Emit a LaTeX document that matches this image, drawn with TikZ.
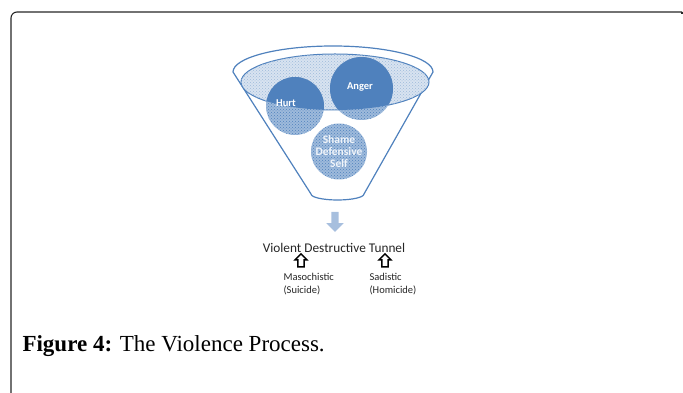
\documentclass[tikz,border=0pt]{standalone}
\usepackage{fontspec}
\setmainfont{Liberation Serif}
\newfontfamily\diagfont{Carlito}
\usetikzlibrary{patterns}
\usetikzlibrary{shapes.arrows}
\usetikzlibrary{positioning}

\definecolor{funnelblue}{RGB}{79,129,189}
\definecolor{arrowblue}{RGB}{167,191,222}

\begin{document}
\begin{tikzpicture}[x=1pt, y=1pt,
  dotlight/.style={fill=funnelblue!22, postaction={pattern=crosshatch dots, pattern color=funnelblue!55}},
  dotmid/.style={fill=funnelblue!55, postaction={pattern=crosshatch dots, pattern color=funnelblue}},
  ball/.style={circle, inner sep=0pt, minimum size=#1},
  balltext/.style={font=\diagfont\bfseries\fontsize{10.5}{11}\selectfont, text=white},
  openarrow/.style={single arrow, draw=black, line width=1.4pt, inner sep=2.4pt, single arrow head extend=2.8pt, minimum height=13pt, shape border rotate=90},
  label/.style={font=\diagfont\fontsize{10.5}{13}\selectfont, align=left, text=black!85}]
\useasboundingbox (0,0) rectangle (683,393);

% frame
\draw[black!85, line width=1.1pt, rounded corners=6pt] (11,0) -- (11,381) -- (682,381);
\draw[black!85, line width=1.1pt] (682,381) -- (682,379);

% funnel
\draw[funnelblue, line width=1.2pt, fill=white] (233,321) arc[start angle=180, end angle=0, x radius=100, y radius=26]
  -- (364,199) arc[start angle=0, end angle=-180, x radius=26.5, y radius=6] -- cycle;
\draw[funnelblue, line width=1pt, dotlight] (335,311) ellipse[x radius=94, y radius=28];

% balls
\fill[dotmid] (295,287) circle (29);
\fill[dotmid] (361.5,304.5) circle (31.5);
\begin{scope}
\clip (335,311) ellipse[x radius=94, y radius=28];
\fill[funnelblue] (295,287) circle (29);
\fill[funnelblue] (361.5,304.5) circle (31.5);
\end{scope}
\node[ball=58pt] (hurt) at (295,287) {};
\node[ball=63pt] (anger) at (361.5,304.5) {};
\node[ball=56pt, dotmid] (shame) at (339,241.5) {};
\node[balltext] at (286,290) {Hurt};
\node[balltext] at (360,306) {Anger};
\node[balltext, font=\diagfont\bfseries\fontsize{11.5}{12}\selectfont, text=white!92!funnelblue, align=center] at (shame) {Shame\\Defensive\\Self};

% tunnel
\node[single arrow, fill=arrowblue, inner sep=3.5pt, single arrow head extend=5pt, minimum height=20pt, shape border rotate=270] (down) at (335,173) {};
\node[font=\diagfont\fontsize{13.3}{14}\selectfont, text=black!85] (tunnel) at (334,145) {Violent Destructive Tunnel};
\node[openarrow] (upleft) at (301,131) {};
\node[openarrow] (upright) at (385,131) {};
\node[label, anchor=west] (maso) at (280,108.5) {Masochistic\\(Suicide)};
\node[label, anchor=west] (sadi) at (366,108.5) {Sadistic\\(Homicide)};

% caption
\node[anchor=west, font=\fontsize{23}{25}\selectfont] (caption) at (19,47) {\textbf{Figure 4:} The Violence Process.};
\end{tikzpicture}
\end{document}
